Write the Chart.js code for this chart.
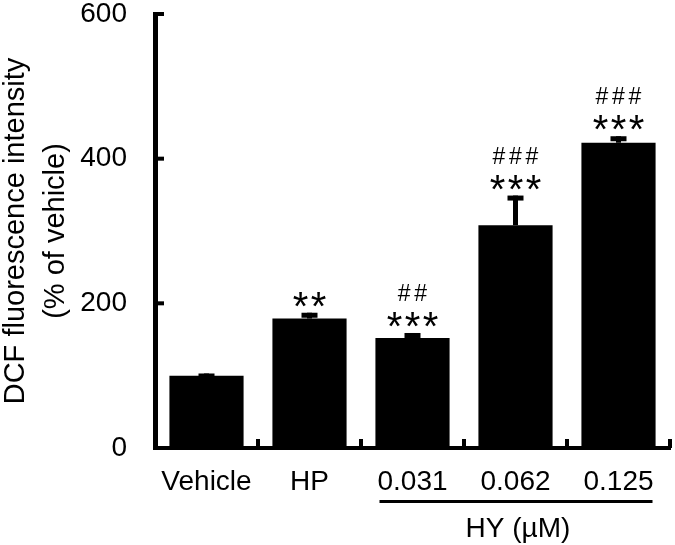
<!DOCTYPE html>
<html>
<head>
<meta charset="utf-8">
<script src="https://cdn.jsdelivr.net/npm/chart.js@4.4.1/dist/chart.umd.min.js"></script>
<style>
  html, body { margin: 0; padding: 0; background: #fff; }
</style>
</head>
<body>
<canvas id="myChart" width="675" height="545"></canvas>
<script>
// data
const groups = ["Vehicle", "HP", "0.031", "0.062", "0.125"];
const means = [100, 179, 152, 308, 422];
const errors = [3, 8, 7, 41, 9];
const starMarks = ["", "**", "***", "***", "***"];
const hashMarks = ["", "", "##", "###", "###"];
const yTicks = [0, 200, 400, 600];
const hyGroups = ["0.031", "0.062", "0.125"];
const hyLabel = "HY (µM)";

const FONT = "'Liberation Sans', Arial, sans-serif";

// draws things Chart.js can't: upper error bars, significance marks,
// inward tick marks and the HY bracket under the last three groups
const extras = {
  id: "extras",
  afterDraw(chart) {
    const ctx = chart.ctx;
    const x = chart.scales.x;
    const y = chart.scales.y;
    const area = chart.chartArea;
    const bars = chart.getDatasetMeta(0).data;
    ctx.save();
    ctx.fillStyle = "#000";

    // error bars (upper only)
    for (let i = 0; i < means.length; i++) {
      const cx = bars[i].x;
      const yTop = y.getPixelForValue(means[i] + errors[i]);
      const yBar = y.getPixelForValue(means[i]);
      ctx.fillRect(cx - 2.5, yTop, 5, yBar - yTop);
      ctx.fillRect(cx - 8, yTop, 16, 5);
    }

    // significance marks
    for (let i = 0; i < means.length; i++) {
      const cx = bars[i].x;
      const yTop = y.getPixelForValue(means[i] + errors[i]);
      const starY = yTop - 16;
      const hashY = starY - 24;
      ctx.textAlign = "center";
      ctx.textBaseline = "alphabetic";
      ctx.font = "40px " + FONT;
      const s = starMarks[i];
      for (let k = 0; k < s.length; k++) {
        ctx.fillText(s[k], cx + (k - (s.length - 1) / 2) * 18, starY + 0.575 * 40);
      }
      ctx.font = "23px " + FONT;
      const h = hashMarks[i];
      for (let k = 0; k < h.length; k++) {
        ctx.fillText(h[k], cx + (k - (h.length - 1) / 2) * 16.5, hashY + 8);
      }
    }

    // y ticks pointing inward
    yTicks.forEach((v) => {
      const py = y.getPixelForValue(v);
      ctx.fillRect(area.left, py - 2, 9, 4);
    });
    // x ticks between groups, pointing up
    const step = x.getPixelForValue(1) - x.getPixelForValue(0);
    for (let i = 0; i < groups.length; i++) {
      const px = x.getPixelForValue(i) + step / 2;
      ctx.fillRect(px - 2, area.bottom - 9, 4, 9);
    }
    // close the corner
    ctx.fillRect(area.left - 2, area.bottom - 2, 4, 4);

    // HY bracket
    const first = groups.indexOf(hyGroups[0]);
    const last = groups.indexOf(hyGroups[hyGroups.length - 1]);
    const x1 = x.getPixelForValue(first) - 33;
    const x2 = x.getPixelForValue(last) + 34;
    ctx.fillRect(x1, 500, x2 - x1, 3);
    ctx.font = "28px " + FONT;
    ctx.textAlign = "center";
    ctx.textBaseline = "middle";
    ctx.fillText(hyLabel, (x1 + x2) / 2 + 2, 529);
    ctx.restore();
  },
};

const config = {
  type: "bar",
  data: {
    labels: groups,
    datasets: [
      {
        data: means,
        backgroundColor: "#000",
        borderWidth: 0,
        barPercentage: 0.72,
        categoryPercentage: 1,
      },
    ],
  },
  options: {
    responsive: false,
    animation: false,
    devicePixelRatio: 1,
    layout: { padding: { top: 14, right: 5, left: 0, bottom: 0 } },
    plugins: {
      legend: { display: false },
      tooltip: { enabled: false },
    },
    scales: {
      x: {
        grid: { display: false, drawTicks: false },
        border: { display: true, color: "#000", width: 4 },
        ticks: {
          color: "#000",
          font: { family: FONT, size: 28 },
          padding: 17,
          maxRotation: 0,
        },
        afterFit(scale) {
          scale.height = 97;
          scale.paddingLeft = 0;
          scale.paddingRight = 0;
        },
      },
      y: {
        min: 0,
        max: 600,
        grid: { display: false, drawTicks: false },
        border: { display: true, color: "#000", width: 5 },
        afterBuildTicks(scale) {
          scale.ticks = yTicks.map((v) => ({ value: v }));
        },
        ticks: {
          color: "#000",
          font: { family: FONT, size: 28 },
          padding: 28,
        },
        title: {
          display: true,
          text: ["DCF fluorescence intensity", "(% of vehicle)"],
          color: "#000",
          font: { family: FONT, size: 29, lineHeight: 1.38 },
          padding: { top: -4, bottom: 0 },
        },
        afterFit(scale) {
          scale.width = 155;
          scale.paddingTop = 0;
          scale.paddingBottom = 0;
        },
      },
    },
  },
  plugins: [extras],
};

const myChart = new Chart(document.getElementById("myChart"), config);
</script>
</body>
</html>
